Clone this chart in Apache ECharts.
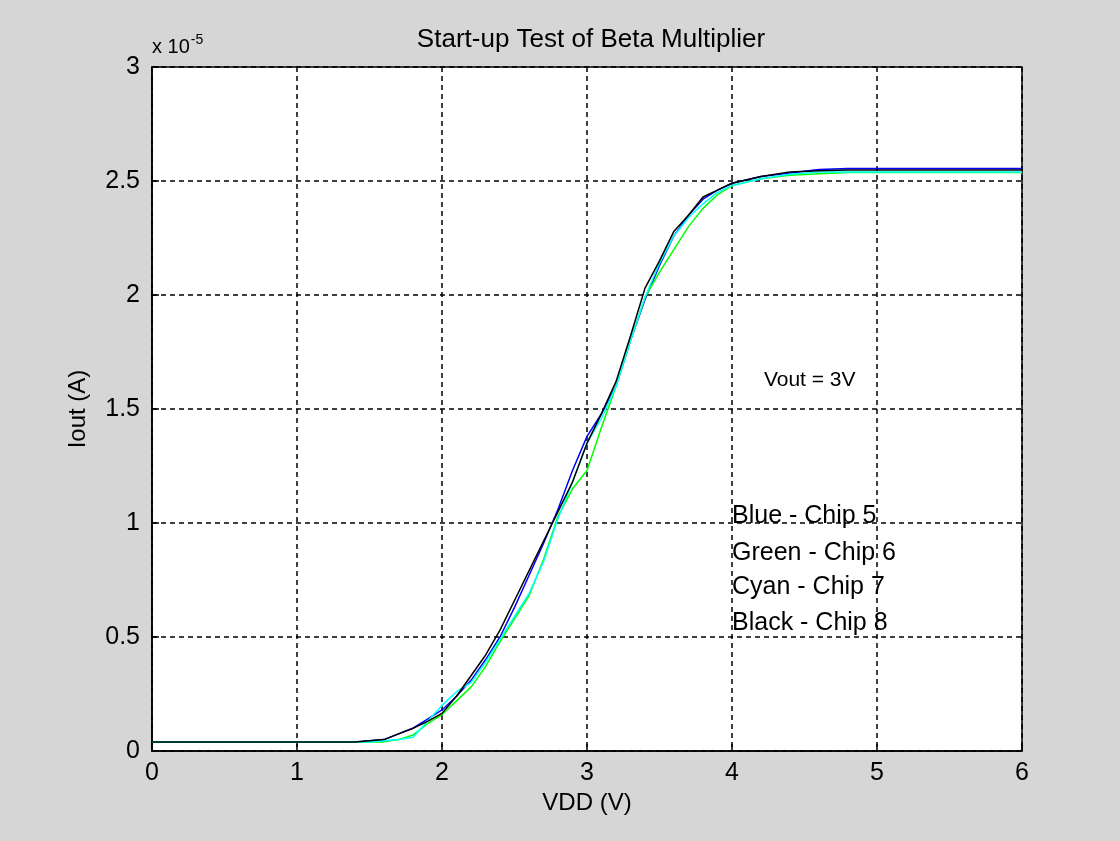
<!DOCTYPE html>
<html>
<head>
<meta charset="utf-8">
<script src="https://cdn.jsdelivr.net/npm/echarts@6/dist/echarts.min.js"></script>
<style>
  html, body { margin: 0; padding: 0; background: #d6d6d6; }
  #chart { width: 1120px; height: 841px; }
</style>
</head>
<body>
<div id="chart"></div>
<script>
// VDD sweep (V)
var vdd = [0, 0.5, 1.0, 1.4, 1.5, 1.6, 1.7, 1.8, 1.9, 2.0, 2.1, 2.2, 2.3, 2.4, 2.5, 2.6, 2.7, 2.8, 2.9, 3.0,
           3.1, 3.2, 3.3, 3.4, 3.5, 3.6, 3.7, 3.8, 3.9, 4.0, 4.2, 4.4, 4.6, 4.8, 5.0, 5.5, 6.0];

// Iout in units of 1e-5 A
var chip5 = [0.04, 0.04, 0.04, 0.04, 0.045, 0.05, 0.075, 0.10, 0.14, 0.18, 0.24, 0.31, 0.40, 0.50, 0.63, 0.77, 0.91, 1.06, 1.23, 1.38,
             1.48, 1.60, 1.80, 1.98, 2.13, 2.26, 2.35, 2.42, 2.46, 2.49, 2.52, 2.535, 2.55, 2.555, 2.555, 2.555, 2.555];
var chip6 = [0.04, 0.04, 0.04, 0.04, 0.04, 0.04, 0.05, 0.07, 0.12, 0.16, 0.22, 0.28, 0.37, 0.48, 0.58, 0.68, 0.84, 1.03, 1.15, 1.23,
             1.42, 1.60, 1.80, 1.99, 2.10, 2.20, 2.30, 2.38, 2.44, 2.48, 2.51, 2.525, 2.532, 2.537, 2.537, 2.537, 2.537];
var chip7 = [0.04, 0.04, 0.04, 0.04, 0.04, 0.045, 0.05, 0.06, 0.13, 0.20, 0.26, 0.30, 0.39, 0.49, 0.59, 0.69, 0.83, 1.02, 1.18, 1.35,
             1.46, 1.60, 1.80, 1.99, 2.14, 2.26, 2.34, 2.40, 2.45, 2.48, 2.51, 2.53, 2.54, 2.54, 2.54, 2.54, 2.54];
var chip8 = [0.04, 0.04, 0.04, 0.04, 0.045, 0.05, 0.075, 0.10, 0.13, 0.165, 0.24, 0.33, 0.42, 0.53, 0.66, 0.79, 0.92, 1.05, 1.18, 1.35,
             1.48, 1.62, 1.82, 2.03, 2.15, 2.28, 2.35, 2.43, 2.46, 2.49, 2.52, 2.54, 2.545, 2.548, 2.548, 2.548, 2.548];

var seriesNames = ['Chip 5', 'Chip 6', 'Chip 7', 'Chip 8'];
var seriesColors = ['#0000ff', '#00ff00', '#00ffff', '#000000'];
var seriesData = [chip5, chip6, chip7, chip8];

var noteLines = ['Blue - Chip 5', 'Green - Chip 6', 'Cyan - Chip 7', 'Black - Chip 8'];

function pairs(ys) {
  var out = [];
  for (var i = 0; i < vdd.length; i++) out.push([vdd[i], ys[i]]);
  return out;
}

var font = '"Liberation Sans", Arial, sans-serif';
var chart = echarts.init(document.getElementById('chart'));

var series = [];
for (var k = 0; k < seriesData.length; k++) {
  series.push({
    name: seriesNames[k],
    type: 'line',
    data: pairs(seriesData[k]),
    showSymbol: false,
    animation: false,
    lineStyle: { color: seriesColors[k], width: 1.5 },
    itemStyle: { color: seriesColors[k] }
  });
}

var option = {
  backgroundColor: '#d6d6d6',
  animation: false,
  title: {
    text: 'Start-up Test of Beta Multiplier',
    left: 586, top: 22, textAlign: 'center',
    textStyle: { fontFamily: font, fontSize: 26, fontWeight: 'normal', color: '#000' }
  },
  grid: {
    left: 152, right: 98, top: 67, bottom: 90,
    show: true, backgroundColor: '#ffffff', borderColor: '#000', borderWidth: 1.5
  },
  xAxis: {
    type: 'value', min: 0, max: 6, interval: 1,
    name: 'VDD (V)', nameLocation: 'middle', nameGap: 38,
    nameTextStyle: { fontFamily: font, fontSize: 24, color: '#000' },
    axisLine: { show: true, lineStyle: { color: '#000', width: 1.5 } },
    axisTick: { inside: true, length: 7, lineStyle: { color: '#000', width: 1.5 } },
    axisLabel: { fontFamily: font, fontSize: 25, color: '#000', margin: 10 },
    splitLine: { show: true, lineStyle: { color: '#000', type: [5, 4], width: 1.5 } }
  },
  yAxis: {
    type: 'value', min: 0, max: 3, interval: 0.5,
    name: 'Iout (A)', nameLocation: 'middle', nameGap: 62, nameRotate: 90,
    nameTextStyle: { fontFamily: font, fontSize: 24, color: '#000' },
    axisLine: { show: true, lineStyle: { color: '#000', width: 1.5 } },
    axisTick: { inside: true, length: 7, lineStyle: { color: '#000', width: 1.5 } },
    axisLabel: { fontFamily: font, fontSize: 25, color: '#000', margin: 12 },
    splitLine: { show: true, lineStyle: { color: '#000', type: [5, 4], width: 1.5 } }
  },
  series: series
};
chart.setOption(option);

// annotations placed in data coordinates
var g = [];
g.push({
  type: 'text', left: 152, top: 33,
  style: {
    text: '{a|x 10}{b|-5}',
    rich: {
      a: { fontFamily: font, fontSize: 20, fill: '#000' },
      b: { fontFamily: font, fontSize: 14, fill: '#000', verticalAlign: 'top', padding: [0, 0, 14, 1] }
    }
  }
});
var vp = chart.convertToPixel({ gridIndex: 0 }, [4.22, 1.625]);
g.push({ type: 'text', x: vp[0], y: vp[1], style: { text: 'Vout = 3V', fontFamily: font, fontSize: 21, fill: '#000', verticalAlign: 'middle' } });
var noteY = [1.03, 0.87, 0.72, 0.56];
for (var n = 0; n < noteLines.length; n++) {
  var p = chart.convertToPixel({ gridIndex: 0 }, [4.0, noteY[n]]);
  g.push({ type: 'text', x: p[0], y: p[1], style: { text: noteLines[n], fontFamily: font, fontSize: 25, fill: '#000', verticalAlign: 'middle' } });
}
chart.setOption({ graphic: g });
</script>
</body>
</html>
